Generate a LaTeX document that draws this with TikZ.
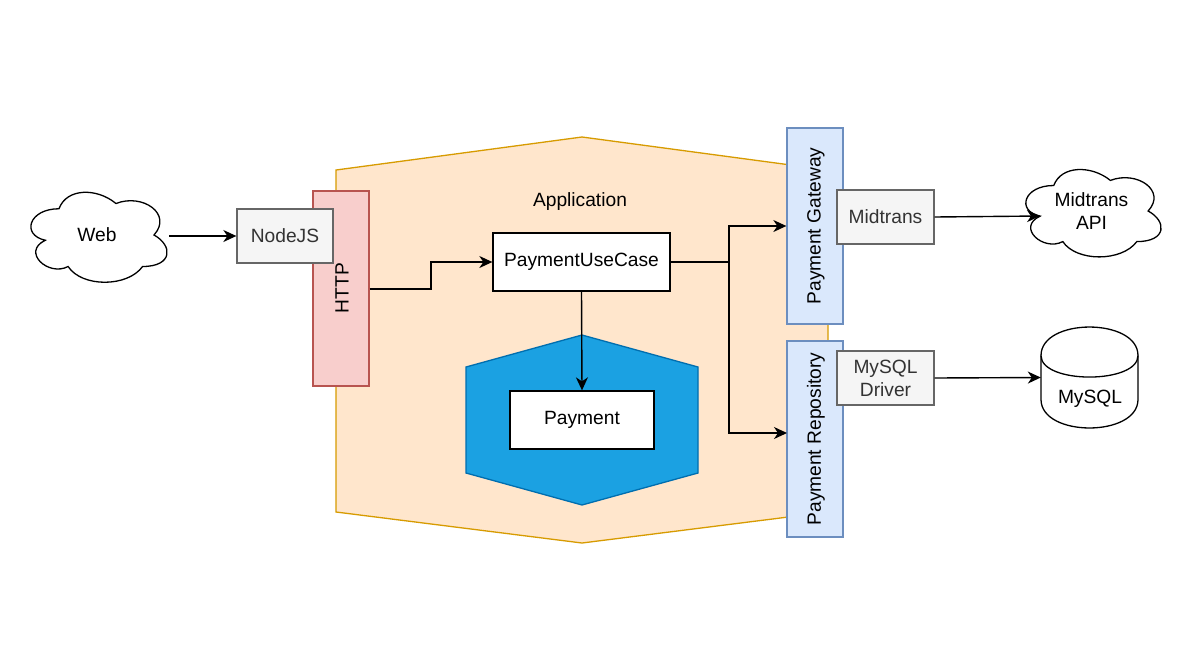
\documentclass[tikz,border=0pt]{standalone}
\usepackage{fontspec}
\setmainfont{Liberation Sans}
\usetikzlibrary{arrows.meta}
\definecolor{appfill}{HTML}{FFE6CC}
\definecolor{appdraw}{HTML}{D79B00}
\definecolor{redfill}{HTML}{F8CECC}
\definecolor{reddraw}{HTML}{B85450}
\definecolor{bluefill}{HTML}{DAE8FC}
\definecolor{bluedraw}{HTML}{6C8EBF}
\definecolor{greyfill}{HTML}{F5F5F5}
\definecolor{greydraw}{HTML}{666666}
\definecolor{greytext}{HTML}{333333}
\definecolor{hexfill}{HTML}{1BA1E2}
\definecolor{hexdraw}{HTML}{006EAF}
\newcommand\mycloudpath{(0.25,0.25) .. controls (0.05,0.25) and (0,0.5) .. (0.16,0.55)
  .. controls (0,0.66) and (0.18,0.9) .. (0.31,0.8)
  .. controls (0.4,1) and (0.7,1) .. (0.8,0.8)
  .. controls (1,0.8) and (1,0.6) .. (0.875,0.5)
  .. controls (1,0.3) and (0.8,0.1) .. (0.625,0.2)
  .. controls (0.5,0.05) and (0.3,0.05) .. (0.25,0.25) -- cycle}
\tikzset{
  txt/.style={font=\fontsize{19.2}{23}\selectfont, inner sep=0pt, align=center},
  box/.style={txt, draw, line width=1.3pt, minimum width=#1},
  whitebox/.style={box=#1, fill=white, draw=black},
  greybox/.style={box=#1, fill=greyfill, draw=greydraw, text=greytext, minimum height=54},
  bluebar/.style={draw=bluedraw, fill=bluefill, line width=1.3pt, minimum width=56, minimum height=196, inner sep=0pt},
  conn/.style={line width=1.4pt, -{Stealth[length=13pt, width=12pt, inset=4pt]}},
  outline/.style={line width=1.3pt}
}
\begin{document}
\begin{tikzpicture}[x=1pt, y=-1pt]
\useasboundingbox (0,0) rectangle (1187,657);
\fill[white] (0,0) rectangle (1187,657);

% application polygon
\draw[outline, fill=appfill, draw=appdraw] (336,170) -- (582,137) -- (828,170) -- (828,512) -- (582,543) -- (336,512) -- cycle;
\node[txt] (applabel) at (580,202) {Application};

% HTTP
\node[draw=reddraw, fill=redfill, line width=1.3pt, minimum width=56, minimum height=195, inner sep=0pt] (http) at (341,288.5) {};
\node[txt, rotate=90] (httplabel) at (342,288) {HTTP};

% NodeJS
\node[greybox=96] (nodejs) at (285,236) {NodeJS};

% Web cloud
\begin{scope}[shift={(21,182.5)}, xscale=152, yscale=105]
\draw[outline, fill=white] \mycloudpath;
\end{scope}
\node[txt, minimum width=152, minimum height=105] (web) at (97,235) {Web};
\coordinate (webout) at (169,236);

% PaymentUseCase
\node[whitebox=177, minimum height=58] (puc) at (581.5,262) {PaymentUseCase};

% Payment hexagon
\draw[outline, fill=hexfill, draw=hexdraw] (582,335) -- (698,367) -- (698,473) -- (582,505) -- (466,473) -- (466,367) -- cycle;
\node[whitebox=144, minimum height=58] (payment) at (582,420) {Payment};

% Payment Gateway / Repository
\node[bluebar] (pg) at (815,226) {};
\node[txt, rotate=90] (pglabel) at (816,226) {Payment Gateway};
\node[bluebar] (pr) at (815,439) {};
\node[txt, rotate=90] (prlabel) at (816,439) {Payment Repository};
\coordinate (prin) at (787,433);

% adapters
\node[greybox=97] (midtrans) at (885.5,217) {Midtrans};
\node[greybox=97] (mysqldriver) at (885.5,378) {MySQL\\Driver};

% Midtrans API cloud
\begin{scope}[shift={(1016,160)}, xscale=151, yscale=102]
\draw[outline, fill=white] \mycloudpath;
\end{scope}
\node[txt, minimum width=151, minimum height=102] (midapi) at (1091.5,211) {Midtrans\\API};
\coordinate (midapiin) at (1040,216);

% MySQL cylinder
\draw[outline, fill=white] (1041,355.6) .. controls (1041,317.5) and (1138,317.5) .. (1138,355.6) -- (1138,399.4) .. controls (1138,437.5) and (1041,437.5) .. (1041,399.4) -- cycle;
\draw[outline] (1041,355.6) .. controls (1041,384.2) and (1138,384.2) .. (1138,355.6);
\node[minimum width=97, minimum height=101, inner sep=0pt] (mysql) at (1089.5,377.5) {};
\node[txt] (mysqllabel) at (1090,399) {MySQL};

% connectors
\draw[conn] (webout) -- (nodejs.west);
\draw[conn] (http.east |- 0,289) -- (431,289) -- (431,262) -- (puc.west);
\draw[conn] (puc.south) -- (payment.north);
\draw[conn] (puc.east) -- (729,262) -- (729,226) -- (pg.west);
\draw[conn] (729,262) -- (729,433) -- (prin);
\draw[conn] (midtrans.east) -- (midapiin);
\draw[conn] (mysqldriver.east) -- (mysql.west);
\end{tikzpicture}
\end{document}
